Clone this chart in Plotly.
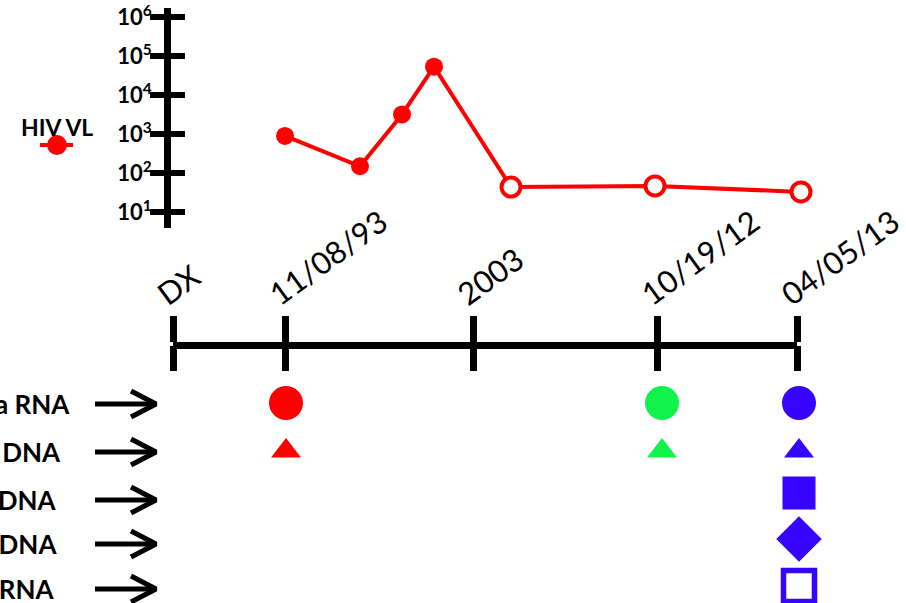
import plotly.graph_objects as go

W, H = 906, 603
FONT = "Lato"
RED = "#FF0000"
GREEN = "#11F24A"
BLUE = "#3705FF"

# Timeline events (position along the time line)
event_labels = ["DX", "11/08/93", "2003", "10/19/12", "04/05/13"]
event_pos = [173, 285, 473, 657, 797]

# HIV viral load (copies/mL); last three below the detection limit
vl_pos = [285, 360, 402, 434, 511, 655, 801]
vl_copies = [900, 150, 3200, 54000, 44, 47, 33]
vl_undetectable = [False, False, False, False, True, True, True]
vl_tickvals = [1e1, 1e2, 1e3, 1e4, 1e5, 1e6]
vl_ticktext = ["<b>10<sup>%d</sup></b>" % k for k in range(1, 7)]

# Assays performed at each sampling visit
assay_labels = ["Plasma RNA", "PBMC DNA", "Total DNA", "2-LTR DNA", "CA RNA"]
assay_label_right = [72, 63, 59, 59, 56]
assay_rows = [404, 452, 500, 544, 589]
assay_marker_rows = [403, 451, 493, 539, 586]
assay_symbols = ["circle", "triangle-up", "square", "diamond", "square-open"]
assay_sizes = [34, 26, 33, 35, 31]
visit_pos = [286, 662, 799]
visit_colors = [RED, GREEN, BLUE]
visit_assays = [[0, 1], [0, 1], [0, 1, 2, 3, 4]]

fig = go.Figure()

# viral load line
fig.add_trace(go.Scatter(
    x=vl_pos, y=vl_copies, xaxis="x", yaxis="y", mode="lines+markers",
    line=dict(color=RED, width=4),
    marker=dict(
        size=[19 if u else 18 for u in vl_undetectable],
        color=["white" if u else RED for u in vl_undetectable],
        line=dict(color=RED, width=[4 if u else 0 for u in vl_undetectable]),
        opacity=1,
    ),
    showlegend=False, hoverinfo="skip",
))
# mirrored axis for the right half of the crossing ticks
fig.add_trace(go.Scatter(x=[vl_pos[0]], y=[vl_copies[0]], xaxis="x", yaxis="y3",
                         mode="markers", marker=dict(opacity=0), showlegend=False,
                         hoverinfo="skip"))

# timeline axes carriers
fig.add_trace(go.Scatter(x=[event_pos[0]], y=[0], xaxis="x2", yaxis="y2", mode="markers",
                         marker=dict(opacity=0), showlegend=False, hoverinfo="skip"))
fig.add_trace(go.Scatter(x=[event_pos[0]], y=[0], xaxis="x3", yaxis="y2", mode="markers",
                         marker=dict(opacity=0), showlegend=False, hoverinfo="skip"))

# assay markers
for vx, col, idxs in zip(visit_pos, visit_colors, visit_assays):
    for i in idxs:
        sym = assay_symbols[i]
        is_open = sym.endswith("open")
        fig.add_trace(go.Scatter(
            x=[vx], y=[assay_marker_rows[i]], xaxis="x", yaxis="y2", mode="markers",
            marker=dict(symbol=sym, size=assay_sizes[i], color=col, opacity=1,
                        line=dict(color=col, width=5.5 if is_open else 0)),
            showlegend=False, hoverinfo="skip",
        ))

# arrows pointing from the assay labels to the time line
ax_, ay_ = [], []
for r in assay_rows:
    ax_ += [95, 155, None, 131, 156, 131, None]
    ay_ += [r, r, None, r - 13, r, r + 13, None]
fig.add_trace(go.Scatter(x=ax_, y=ay_, xaxis="x", yaxis="y2", mode="lines",
                         line=dict(color="black", width=5), showlegend=False,
                         hoverinfo="skip"))

# legend glyph
fig.add_trace(go.Scatter(x=[40, 57, 73], y=[145, 145, 145], xaxis="x", yaxis="y2",
                         mode="lines", line=dict(color=RED, width=4),
                         showlegend=False, hoverinfo="skip"))
fig.add_trace(go.Scatter(x=[57], y=[145], xaxis="x", yaxis="y2", mode="markers",
                         marker=dict(color=RED, size=20, opacity=1), showlegend=False,
                         hoverinfo="skip"))

annotations = [dict(x=57, y=127, xref="x", yref="y2", text="<b>HIV VL</b>",
                    showarrow=False, font=dict(family=FONT, size=23, color="black"))]
for lab, xr, r in zip(assay_labels, assay_label_right, assay_rows):
    annotations.append(dict(x=xr, y=r, xref="x", yref="y2", xanchor="right",
                            text="<b>%s</b>" % lab, showarrow=False,
                            font=dict(family=FONT, size=26, color="black")))

vl_log_range = [0.592, 6.237]
vl_domain = [1 - 228 / H, 1 - 8 / H]
vl_axis_x = 167 / W
line_y = 1 - 345 / H
t_range = [event_pos[0] - 0.01, event_pos[-1] + 0.01]
t_domain = [(event_pos[0] - 0.01) / W, (event_pos[-1] + 0.01) / W]

fig.update_layout(
    width=W, height=H, margin=dict(l=0, r=0, t=0, b=0, pad=0, autoexpand=False),
    paper_bgcolor="white", plot_bgcolor="rgba(0,0,0,0)",
    annotations=annotations, showlegend=False,
    xaxis=dict(range=[0, W], domain=[0, 1], visible=False, anchor="y2",
               automargin=False),
    yaxis=dict(type="log", range=vl_log_range, domain=vl_domain, anchor="free",
               position=vl_axis_x, side="left", showline=True, linewidth=7,
               linecolor="black", ticks="outside", ticklen=14, tickwidth=6,
               tickcolor="black", tickvals=vl_tickvals, ticktext=vl_ticktext,
               showgrid=False, zeroline=False, automargin=False,
               ticklabeloverflow="allow", ticklabelstandoff=-6,
               tickfont=dict(family=FONT, size=22, color="black")),
    yaxis3=dict(type="log", range=vl_log_range, overlaying="y", anchor="free",
                position=vl_axis_x, side="right", showline=False, ticks="outside",
                ticklen=17, tickwidth=6, tickcolor="black", tickvals=vl_tickvals,
                showticklabels=False, showgrid=False, zeroline=False,
                automargin=False),
    yaxis2=dict(range=[H, 0], domain=[0, 1], visible=False, anchor="x",
                automargin=False),
    xaxis2=dict(range=t_range, domain=t_domain, anchor="free",
                position=line_y, side="top", showline=True, linewidth=7,
                linecolor="black", ticks="outside", ticklen=26, tickwidth=7,
                tickcolor="black", tickvals=event_pos, ticktext=event_labels,
                tickangle=-36, showgrid=False, zeroline=False, automargin=False,
                ticklabelshift=-14, ticklabelstandoff=-6, ticklabeloverflow="allow",
                tickfont=dict(family=FONT, size=31, color="black")),
    xaxis3=dict(range=t_range, overlaying="x2", anchor="free",
                position=line_y, side="bottom", showline=False, ticks="outside",
                ticklen=25, tickwidth=7, tickcolor="black", tickvals=event_pos,
                showticklabels=False, showgrid=False, zeroline=False,
                automargin=False),
)

fig.write_html("out.html")
